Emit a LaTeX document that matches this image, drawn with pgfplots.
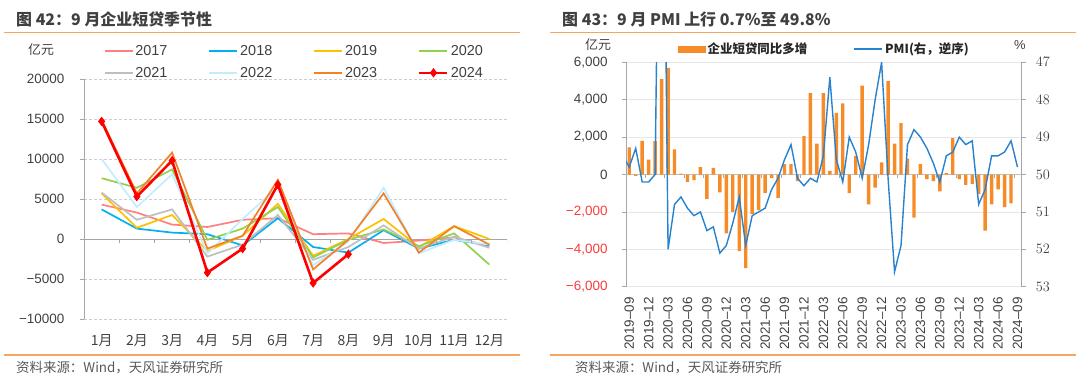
\documentclass[border=0pt]{standalone}
\usepackage{pgfplots}
\pgfplotsset{compat=1.18}
\usepackage{fontspec}
\setmainfont{Liberation Sans}
\newfontfamily\cjk{Noto Sans CJK SC}
\definecolor{ctitle}{RGB}{64,64,64}
\definecolor{cline}{RGB}{245,166,100}
\definecolor{ctick}{RGB}{64,64,64}
\definecolor{caxis}{RGB}{166,166,166}
\definecolor{czero}{RGB}{191,191,191}
\definecolor{cgridd}{RGB}{205,205,205}
\definecolor{cgrid}{RGB}{230,230,230}
\definecolor{csrc}{RGB}{89,89,89}
\definecolor{c2017}{RGB}{255,128,128}
\definecolor{c2018}{RGB}{0,176,240}
\definecolor{c2019}{RGB}{255,192,0}
\definecolor{c2020}{RGB}{146,208,80}
\definecolor{c2021}{RGB}{191,191,191}
\definecolor{c2022}{RGB}{195,236,255}
\definecolor{c2023}{RGB}{242,130,40}
\definecolor{c2024}{RGB}{255,0,0}
\definecolor{cbar}{RGB}{246,139,40}
\definecolor{cpmi}{RGB}{40,130,205}
\definecolor{cneg}{RGB}{250,60,60}
\newcommand{\fs}[1]{\fontsize{#1}{#1}\selectfont}
\begin{document}
\begin{tikzpicture}
\useasboundingbox (0bp,0bp) rectangle (1080bp,379bp);
% titles and frame lines
\node[anchor=west, inner sep=0, text=ctitle, font=\cjk\bfseries\fs{16}] at (16bp,359.5bp) {图 42：9 月企业短贷季节性};
\node[anchor=west, inner sep=0, text=ctitle, font=\cjk\bfseries\fs{16}] at (562bp,359.5bp) {图 43：9 月 PMI 上行 0.7\%至 49.8\%};
\draw[cline, line width=1.3bp] (4bp,346.5bp) -- (520bp,346.5bp);
\draw[cline, line width=1.3bp] (550bp,346.5bp) -- (1076bp,346.5bp);
\draw[cline, line width=1.3bp] (4bp,24bp) -- (520bp,24bp);
\draw[cline, line width=1.3bp] (550bp,24bp) -- (1076bp,24bp);
\node[anchor=west, inner sep=0, text=csrc, font=\cjk\fs{13.5}] at (16bp,11bp) {资料来源：Wind，天风证券研究所};
\node[anchor=west, inner sep=0, text=csrc, font=\cjk\fs{13.5}] at (575bp,11bp) {资料来源：Wind，天风证券研究所};
\node[anchor=west, inner sep=0, text=ctick, font=\cjk\fs{13}] at (28bp,329bp) {亿元};
\node[anchor=west, inner sep=0, text=ctick, font=\cjk\fs{13}] at (585bp,334bp) {亿元};
\node[anchor=west, inner sep=0, text=ctick, font=\fs{13}] at (1014bp,334bp) {\%};

% ---------------- left chart ----------------
\begin{axis}[
  at={(84bp,60bp)}, anchor=south west, scale only axis, width=423bp, height=240bp,
  xmin=0.5, xmax=12.5, ymin=-10000, ymax=20000, scaled y ticks=false,
  axis y line*=left, axis x line*=bottom,
  x axis line style={draw=none}, y axis line style={draw=caxis, line width=0.8bp},
  xtick={1,...,12}, xticklabels={1月,2月,3月,4月,5月,6月,7月,8月,9月,10月,11月,12月},
  xtick style={draw=none},
  xticklabel style={font=\cjk\fs{14}, text=ctick, inner sep=0pt, anchor=north, yshift=-11bp},
  ytick={-10000,-5000,5000,10000,15000,20000},
  yticklabels={−10000,−5000,5000,10000,15000,20000},
  extra y ticks={0}, extra y tick labels={0},
  extra y tick style={grid=major, major grid style={draw=caxis, solid, line width=0.8bp}},
  ymajorgrids, major grid style={draw=cgridd, dash pattern=on 2.5bp off 2.5bp, line width=0.7bp},
  yticklabel style={font=\fs{13.5}, text=ctick, inner sep=0pt, anchor=east, xshift=-15.5bp},
  ytick style={draw=caxis, line width=0.8bp}, tick align=outside, major tick length=4bp,
  legend columns=4, legend cell align=left,
  legend style={at={(0.046,1.149)}, anchor=north west, draw=none, fill=none, inner sep=0pt,
    font=\fs{14.5}, text=ctick, row sep=6bp, nodes={inner sep=2bp},
    /tikz/every even column/.append style={column sep=39bp}},
  legend image code/.code={\draw[mark repeat=2, mark phase=2, #1] plot coordinates {(0bp,0bp) (14bp,0bp) (28bp,0bp)};},
]
\addplot[c2017, line width=1.7bp] coordinates {(1,4300) (2,3300) (3,1800) (4,1500) (5,2400) (6,2600) (7,600) (8,700) (9,-500) (10,-200) (11,200) (12,-900)};
\addlegendentry{2017}
\addplot[c2018, line width=1.7bp] coordinates {(1,3700) (2,1300) (3,800) (4,600) (5,-800) (6,2600) (7,-1000) (8,-1700) (9,1100) (10,-1200) (11,-100) (12,-800)};
\addlegendentry{2018}
\addplot[c2019, line width=1.7bp] coordinates {(1,5700) (2,1400) (3,3000) (4,-1500) (5,400) (6,4400) (7,-2100) (8,0) (9,2500) (10,-1000) (11,1600) (12,0)};
\addlegendentry{2019}
\addplot[c2020, line width=1.7bp] coordinates {(1,7600) (2,6400) (3,8700) (4,-100) (5,1300) (6,4000) (7,-2300) (8,-100) (9,1200) (10,-900) (11,700) (12,-3200)};
\addlegendentry{2020}
\addplot[c2021, line width=1.7bp] coordinates {(1,5800) (2,2400) (3,3700) (4,-2200) (5,-700) (6,3000) (7,-2600) (8,-1000) (9,1700) (10,-1200) (11,300) (12,-1100)};
\addlegendentry{2021}
\addplot[c2022, line width=1.7bp] coordinates {(1,10000) (2,4000) (3,8100) (4,-1800) (5,2500) (6,6500) (7,-3300) (8,-300) (9,6400) (10,-1800) (11,-100) (12,-700)};
\addlegendentry{2022}
\addplot[c2023, line width=1.7bp] coordinates {(1,14900) (2,5700) (3,10800) (4,-1200) (5,400) (6,7400) (7,-3800) (8,-100) (9,5700) (10,-1700) (11,1600) (12,-700)};
\addlegendentry{2023}
\addplot[c2024, line width=2.6bp, mark=diamond*, mark size=2.6bp, mark options={solid}] coordinates {(1,14700) (2,5300) (3,9800) (4,-4200) (5,-1200) (6,6800) (7,-5500) (8,-1900)};
\addlegendentry{2024}
\pgfplotsinvokeforeach{1.5,2.5,...,12.5}{\draw[caxis, line width=0.8bp] (axis cs:#1,0) -- ++(0bp,-4bp);}
\end{axis}

% ---------------- right chart: bars ----------------
\begin{axis}[
  at={(626bp,92.3bp)}, anchor=south west, scale only axis, width=395.7bp, height=224.4bp,
  xmin=-0.5, xmax=60.65, ymin=-6000, ymax=6000, scaled y ticks=false,
  axis y line*=left, axis x line*=bottom,
  x axis line style={draw=none}, y axis line style={draw=caxis, line width=0.8bp},
  xtick={0,3,...,60},
  xticklabels={2019--09,2019--12,2020--03,2020--06,2020--09,2020--12,2021--03,2021--06,2021--09,2021--12,2022--03,2022--06,2022--09,2022--12,2023--03,2023--06,2023--09,2023--12,2024--03,2024--06,2024--09},
  xtick style={draw=none},
  xticklabel style={font=\fs{13.5}, text=ctick, inner sep=0pt, yshift=-6.6bp, rotate=90, anchor=east},
  ytick={-6000,-4000,...,6000},
  yticklabels={{\textcolor{cneg}{−6,000}},{\textcolor{cneg}{−4,000}},{\textcolor{cneg}{−2,000}},0,{2,000},{4,000},{6,000}},
  ymajorgrids, major grid style={draw=cgrid, line width=0.8bp},
  extra y ticks={0}, extra y tick labels={},
  extra y tick style={grid=major, major grid style={draw=czero, line width=0.8bp}},
  yticklabel style={font=\fs{13.5}, text=ctick, inner sep=0pt, anchor=east, xshift=-14.3bp},
  ytick style={draw=caxis, line width=0.8bp}, tick align=outside, major tick length=4bp,
  legend columns=2, legend cell align=left,
  legend style={at={(0.130,1.096)}, anchor=north west, draw=none, fill=none, inner sep=0pt,
    font=\cjk\bfseries\fs{12.5}, text=black!85, nodes={inner sep=2bp},
    /tikz/every even column/.append style={column sep=44.5bp}},
]
\addplot[ybar, bar width=3.4bp, fill=cbar, draw=none,
  legend image code/.code={\fill[cbar] (0bp,-3.5bp) rectangle (28bp,3.5bp);}] coordinates {
(0,1450) (1,-80) (2,1800) (3,800) (4,1800) (5,5100) (6,5700) (7,1350) (8,50) (9,-400)
(10,-300) (11,400) (12,-1300) (13,350) (14,-950) (15,-3150) (16,-2000) (17,-4100) (18,-5000) (19,-2100)
(20,-1900) (21,-1000) (22,-200) (23,-1250) (24,550) (25,550) (26,-350) (27,2050) (28,4350) (29,1650)
(30,4350) (31,200) (32,3300) (33,3800) (34,-1000) (35,1000) (36,4750) (37,-1600) (38,-700) (39,650)
(40,5000) (41,1650) (42,2750) (43,850) (44,-2300) (45,550) (46,-250) (47,-350) (48,-900) (49,80)
(50,1950) (51,-250) (52,-550) (53,-500) (54,-1050) (55,-3000) (56,-1600) (57,-800) (58,-1750) (59,-1550)};
\addlegendentry{企业短贷同比多增}
\addlegendimage{legend image code/.code={\draw[cpmi, line width=1.4bp] (0bp,0bp) -- (28bp,0bp);}}
\addlegendentry{PMI(右，逆序)}
\pgfplotsinvokeforeach{2.5,5.5,...,59.5}{\draw[caxis, line width=0.8bp] (axis cs:#1,0) -- ++(0bp,-3bp);}
\end{axis}

% ---------------- right chart: PMI ----------------
\begin{axis}[
  at={(626bp,92.3bp)}, anchor=south west, scale only axis, width=395.7bp, height=224.4bp,
  xmin=-0.5, xmax=60.65, ymin=47, ymax=53, y dir=reverse,
  axis y line*=right, axis x line=none, xtick=\empty,
  ytick={47,48,49,50,51,52,53},
  yticklabel style={font=\fs{13.5}, text=ctick, inner sep=0pt, anchor=west, xshift=10bp},
  y axis line style={draw=caxis, line width=0.8bp},
  ytick style={draw=caxis, line width=0.8bp}, tick align=outside, major tick length=4bp,
]
\addplot[cpmi, line width=1.4bp] coordinates {
(-1,49.5) (0,49.8) (1,49.3) (2,50.2) (3,50.2) (4,50.0) (5,35.7) (6,52.0) (7,50.8) (8,50.6) (9,50.9)
(10,51.1) (11,51.0) (12,51.5) (13,51.4) (14,52.1) (15,51.9) (16,51.3) (17,50.6) (18,51.9) (19,51.1)
(20,51.0) (21,50.9) (22,50.4) (23,50.1) (24,49.6) (25,49.2) (26,50.1) (27,50.3) (28,50.1) (29,50.2)
(30,49.5) (31,47.4) (32,49.6) (33,50.2) (34,49.0) (35,49.4) (36,50.1) (37,49.2) (38,48.0) (39,47.0)
(40,50.1) (41,52.6) (42,51.9) (43,49.2) (44,48.8) (45,49.0) (46,49.3) (47,49.7) (48,50.2) (49,49.5)
(50,49.4) (51,49.0) (52,49.2) (53,49.1) (54,50.8) (55,50.4) (56,49.5) (57,49.5) (58,49.4) (59,49.1) (60,49.8)};
\end{axis}
\end{tikzpicture}
\end{document}
